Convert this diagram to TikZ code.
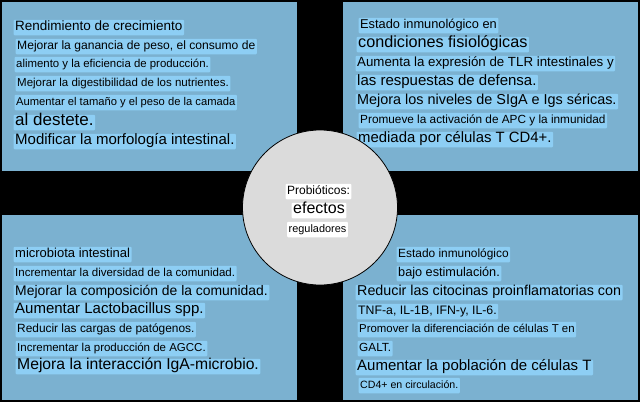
\documentclass[tikz,border=0pt]{standalone}
\usepackage{fontspec}
\setmainfont{Liberation Sans}
\definecolor{panelblue}{RGB}{123,177,208}
\definecolor{markblue}{RGB}{141,206,244}
\definecolor{hubgray}{RGB}{219,219,219}
\newcommand{\fsz}[1]{\fontsize{#1}{#1}\selectfont}
\usetikzlibrary{positioning}

\begin{document}
\begin{tikzpicture}[
  x=1pt, y=-1pt,
  panel/.style={fill=panelblue},
  hilite/.style={
    anchor=west,
    yshift=-2.5pt,
    fill=markblue,
    inner xsep=1.5pt,
    inner ysep=1.5pt,
    text height=0.95em,
    text depth=0.3em,
    rounded corners=1pt
  },
  hubhilite/.style={hilite, anchor=center, fill=white},
  hub/.style={circle, draw=black, line width=0.8pt, fill=hubgray, minimum size=155pt, inner sep=0pt}
]
\fill[black] (0,0) rectangle (640,402);
\fill[panel] (2,2) rectangle (297,171);
\fill[panel] (343,2) rectangle (638,171);
\fill[panel] (2,215) rectangle (297,400);
\fill[panel] (343,215) rectangle (638,400);

\node[hilite] (tl1) at (13.5,25) {\fsz{13.5}Rendimiento de crecimiento};
\node[hilite] (tl2) at (15.5,44) {\fsz{12.1}Mejorar la ganancia de peso, el consumo de};
\node[hilite] (tl3) at (14.5,62) {\fsz{11.4}alimento y la eficiencia de producción.};
\node[hilite] (tl4) at (15.5,81) {\fsz{11.5}Mejorar la digestibilidad de los nutrientes.};
\node[hilite] (tl5) at (14.5,100) {\fsz{11.2}Aumentar el tamaño y el peso de la camada};
\node[hilite] (tl6) at (13.5,120) {\fsz{17}al destete.};
\node[hilite] (tl7) at (13.5,139) {\fsz{15}Modificar la morfología intestinal.};

\node[hilite] (tr1) at (358.5,23) {\fsz{12.8}Estado inmunológico en};
\node[hilite] (tr2) at (356.5,42) {\fsz{16.2}condiciones fisiológicas};
\node[hilite] (tr3) at (355.5,61) {\fsz{13.3}Aumenta la expresión de TLR intestinales y};
\node[hilite] (tr4) at (355.5,80) {\fsz{15}las respuestas de defensa.};
\node[hilite] (tr5) at (355.5,99) {\fsz{14.4}Mejora los niveles de SIgA e Igs séricas.};
\node[hilite] (tr6) at (358.5,118) {\fsz{11.8}Promueve la activación de APC y la inmunidad};
\node[hilite] (tr7) at (356.5,137) {\fsz{14.9}mediada por células T CD4+.};

\node[hilite] (bl1) at (13.5,252) {\fsz{13}microbiota intestinal};
\node[hilite] (bl2) at (13.5,271) {\fsz{11.5}Incrementar la diversidad de la comunidad.};
\node[hilite] (bl3) at (13.5,290) {\fsz{13.9}Mejorar la composición de la comunidad.};
\node[hilite] (bl4) at (13.5,308) {\fsz{15}Aumentar Lactobacillus spp.};
\node[hilite] (bl5) at (15.5,327) {\fsz{11.9}Reducir las cargas de patógenos.};
\node[hilite] (bl6) at (15.5,346) {\fsz{11.5}Incrementar la producción de AGCC.};
\node[hilite] (bl7) at (15.5,364) {\fsz{15.7}Mejora la interacción IgA-microbio.};

\node[hilite] (br1) at (396.5,252) {\fsz{11.9}Estado inmunológico};
\node[hilite] (br2) at (396.5,271) {\fsz{12.7}bajo estimulación.};
\node[hilite] (br3) at (355.5,290) {\fsz{14.3}Reducir las citocinas proinflamatorias con};
\node[hilite] (br4) at (356.5,309) {\fsz{12.3}TNF-a, IL-1B, IFN-y, IL-6.};
\node[hilite] (br5) at (357.5,327) {\fsz{11.4}Promover la diferenciación de células T en};
\node[hilite] (br6) at (357.5,346) {\fsz{11.8}GALT.};
\node[hilite] (br7) at (355.5,365) {\fsz{15}Aumentar la población de células T};
\node[hilite] (br8) at (358.5,383) {\fsz{10.6}CD4+ en circulación.};

\node[hub] (core) at (320,207.5) {};
\node[hubhilite] (core1) at (318.5,189) {\fsz{12}Probióticos:};
\node[hubhilite] (core2) at (319,208) {\fsz{16}efectos};
\node[hubhilite] (core3) at (317.5,227) {\fsz{10.9}reguladores};
\end{tikzpicture}
\end{document}
